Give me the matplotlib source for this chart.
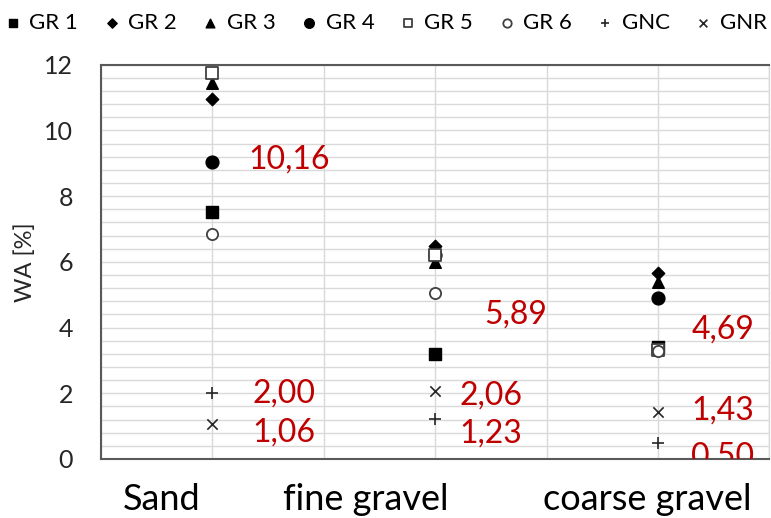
import matplotlib
matplotlib.use('Agg')
from matplotlib import pyplot as plt
from matplotlib.ticker import MultipleLocator

categories = ["Sand", "fine gravel", "coarse gravel"]
series_names = ["GR 1", "GR 2", "GR 3", "GR 4", "GR 5", "GR 6", "GNC", "GNR"]
gr1 = [7.52, 3.20, 3.42]
gr2 = [10.97, 6.48, 5.66]
gr3 = [11.45, 6.00, 5.40]
gr4 = [9.05, 6.20, 4.90]
gr5 = [11.76, 6.20, 3.32]
gr6 = [6.85, 5.06, 3.30]
gnc = [2.00, 1.23, 0.50]
gnr = [1.06, 2.06, 1.43]

# red annotation labels: text, x (category units), y (value units)
label_texts = ["10,16", "2,00", "1,06", "5,89", "2,06", "1,23", "4,69", "1,43", "0,50"]
label_x = [1.16, 1.18, 1.18, 2.22, 2.11, 2.11, 3.15, 3.15, 3.15]
label_y = [9.1, 2.0, 0.8, 4.4, 1.92, 0.76, 3.93, 1.46, 0.06]

# category captions sit a bit left of the category positions in the original
category_label_x = [0.77, 1.69, 2.95]

plt.rcParams['font.family'] = ['Lato', 'DejaVu Sans']

fig = plt.figure(figsize=(7.71, 5.18), dpi=100)
ax = fig.add_axes([0.131, 0.114, 0.867, 0.761])

x = [1, 2, 3]
styles = [
    (gr1, dict(marker='s', s=70, facecolor='black', edgecolor='black')),
    (gr2, dict(marker='D', s=40, facecolor='black', edgecolor='black')),
    (gr3, dict(marker='^', s=70, facecolor='black', edgecolor='black')),
    (gr4, dict(marker='o', s=85, facecolor='black', edgecolor='black')),
    (gr5, dict(marker='s', s=70, facecolor='white', edgecolor='#404040', linewidths=1.3)),
    (gr6, dict(marker='o', s=65, facecolor='white', edgecolor='#404040', linewidths=1.3)),
    (gnc, dict(marker='+', s=70, color='#262626', linewidths=1.2)),
    (gnr, dict(marker='x', s=55, color='#262626', linewidths=1.2)),
]
for name, (vals, kw) in zip(series_names, styles):
    ax.scatter(x, vals, label=name, zorder=3, **kw)

for t, lx, ly in zip(label_texts, label_x, label_y):
    ax.text(lx, ly, t, color='#C00000', fontsize=23, va='center', ha='left', clip_on=True, zorder=4)

ax.set_xlim(0.5, 3.5)
ax.set_ylim(0, 12)
ax.set_xticks(x)
ax.set_xticklabels([])
trans = ax.get_xaxis_transform()
for cat, cx in zip(categories, category_label_x):
    ax.text(cx, -0.13, cat, transform=trans, fontsize=26, ha='center', va='baseline',
            color='black', clip_on=False)

ax.yaxis.set_major_locator(MultipleLocator(2))
ax.yaxis.set_minor_locator(MultipleLocator(0.4))
ax.xaxis.set_minor_locator(MultipleLocator(0.5))
ax.tick_params(axis='y', labelsize=18, length=0, pad=20, colors='#262626')
ax.tick_params(axis='x', length=0)
ax.tick_params(which='minor', length=0)
ax.set_ylabel("WA [%]", fontsize=17, color='#262626', labelpad=6)

ax.grid(True, which='both', axis='y', color='#d9d9d9', linewidth=1)
ax.grid(True, which='both', axis='x', color='#d9d9d9', linewidth=1)
ax.set_axisbelow(True)

for s in ['left', 'bottom', 'top']:
    ax.spines[s].set_color('#595959')
    ax.spines[s].set_linewidth(1.5)
ax.spines['right'].set_color('#d9d9d9')
ax.spines['right'].set_linewidth(1)

fig.legend(loc='upper center', bbox_to_anchor=(0.5, 1.005), ncol=8, frameon=False,
           fontsize=16, handlelength=0.8, handletextpad=0.35, columnspacing=1.1,
           markerscale=0.75, borderaxespad=0.3)

plt.savefig("out.png", dpi=100)
plt.close()
